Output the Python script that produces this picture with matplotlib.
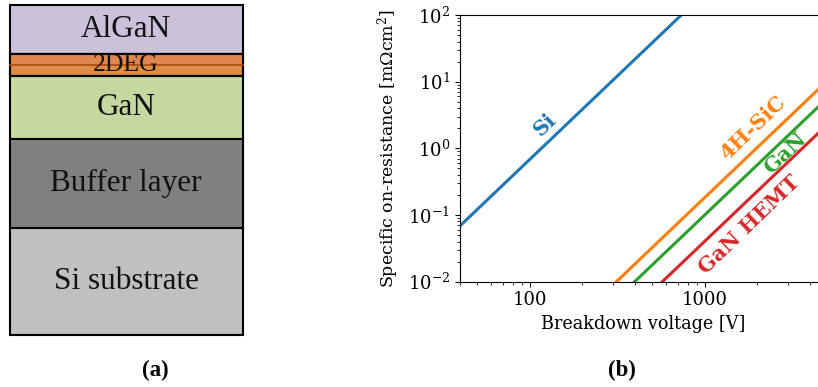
import matplotlib
matplotlib.use('Agg')
import matplotlib.pyplot as plt
from matplotlib.patches import Rectangle

# panel (a): layer stack, y positions in pixels from the top of the figure
layer_names = ['AlGaN', '2DEG', 'GaN', 'Buffer layer', 'Si substrate']
layer_tops = [5, 54, 76, 139, 228]
layer_bottoms = [54, 76, 139, 228, 335]
layer_colors = ['#CCC1DA', '#E08C45', '#C5D8A0', '#808080', '#C0C0C0']

# panel (b): ideal limits, two points per material (V, mOhm cm^2)
si_v = [18.5, 736]
si_r = [0.01, 100]
sic_v = [313, 12460]
sic_r = [0.01, 100]
gan_v = [398, 15850]
gan_r = [0.01, 100]
hemt_v = [573, 22800]
hemt_r = [0.01, 100]

plt.rcParams['mathtext.fontset'] = 'dejavuserif'

fig = plt.figure(figsize=(8.18, 3.87), dpi=100)

# ---- panel (a)
axa = fig.add_axes([0, 0, 1, 1])
axa.set_xlim(0, 818)
axa.set_ylim(387, 0)
axa.axis('off')
for name, top, bot, col in zip(layer_names, layer_tops, layer_bottoms, layer_colors):
    axa.add_patch(Rectangle((10, top), 233, bot - top, facecolor=col,
                            edgecolor='black', linewidth=1.5))
    if name != '2DEG':
        axa.text(126, (top + bot) / 2, name, ha='center', va='center',
                 fontsize=22.5, family='Liberation Serif', color='#111111')
# 2DEG: redder top half and thin dark line in the middle
axa.add_patch(Rectangle((10, 54), 233, 11, facecolor='#E0864F', edgecolor='none'))
axa.plot([10, 243], [65, 65], color='#A84A10', lw=1.2)
axa.add_patch(Rectangle((10, 54), 233, 22, facecolor='none', edgecolor='black', lw=1.5))
axa.text(126, 65, '2DEG', ha='center', va='center', fontsize=18.5,
         family='Liberation Serif', color='#111111', zorder=5)
axa.text(155, 370, '(a)', ha='center', va='center', fontsize=16.5,
         family='Liberation Serif', weight='bold')
axa.text(622, 370, '(b)', ha='center', va='center', fontsize=16.5,
         family='Liberation Serif', weight='bold')

# ---- panel (b)
ax = fig.add_axes([460 / 818, 1 - 281.7 / 387, (827 - 460) / 818, (281.7 - 15) / 387])
ax.plot(si_v, si_r, color='tab:blue', lw=2.2)
ax.plot(sic_v, sic_r, color='tab:orange', lw=2.2)
ax.plot(gan_v, gan_r, color='tab:green', lw=2.2)
ax.plot(hemt_v, hemt_r, color='tab:red', lw=2.2)
ax.set_xscale('log')
ax.set_yscale('log')
ax.set_xlim(40, 5000)
ax.set_ylim(0.01, 100)
ax.xaxis.set_major_formatter(matplotlib.ticker.ScalarFormatter())
ax.spines['right'].set_visible(False)
for lab in ax.get_xticklabels() + ax.get_yticklabels():
    lab.set_family('DejaVu Serif')
ax.tick_params(labelsize=13)
ax.set_xlabel('Breakdown voltage [V]', family='DejaVu Serif', fontsize=12.7)
ax.set_ylabel('Specific on-resistance [m$\\Omega$cm$^2$]', family='DejaVu Serif',
              fontsize=12.5, labelpad=5)

kw = dict(ha='center', va='center', rotation=44, family='DejaVu Serif',
          weight='bold', fontsize=15)
ax.text(122, 2.24, 'Si', color='tab:blue', **kw)
ax.text(1880, 2.02, '4H-SiC', color='tab:orange', **kw)
ax.text(2865, 0.853, 'GaN', color='tab:green', **kw)
ax.text(1808, 0.071, 'GaN HEMT', color='tab:red', **kw)

fig.savefig('out.png', dpi=100)
